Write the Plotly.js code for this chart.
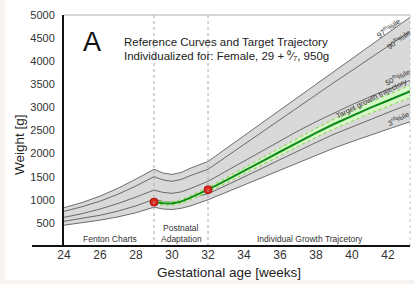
<!DOCTYPE html>
<html><head><meta charset="utf-8">
<script src="https://cdn.plot.ly/plotly-3.0.1.min.js"></script>
<style>
html,body{margin:0;padding:0;background:#f6f3f0;}
#chart{position:absolute;left:5px;top:0;width:410px;height:280px;background:#fff;}
</style></head>
<body><div id="chart"></div>
<script>
// ---- data ----
const weeks = [24,25,26,27,28,29,29.5,30,30.5,31,32,33,34,35,36,37,38,39,40,41,42,43,43.5];
const p97 = [830,940,1080,1250,1450,1660,1580,1550,1590,1680,1830,2110,2390,2670,2950,3230,3510,3790,4070,4340,4610,4890,5020];
const p90 = [750,850,970,1120,1300,1500,1430,1400,1440,1520,1660,1930,2200,2460,2730,3000,3270,3540,3800,4060,4330,4590,4720];
const p50 = [620,700,800,920,1060,1210,1160,1140,1170,1240,1400,1620,1840,2060,2280,2490,2690,2880,3060,3230,3390,3550,3630];
const p10 = [535,595,665,755,870,1010,965,950,980,1040,1130,1310,1490,1680,1870,2060,2240,2420,2580,2740,2890,3040,3110];
const p3  = [450,500,560,630,720,840,800,790,815,865,1000,1160,1320,1490,1650,1810,1970,2120,2260,2400,2530,2660,2720];

const trajWeeks = [29,29.5,30,30.5,31,32,33,34,35,36,37,38,39,40,41,42,43,43.5];
const traj     = [950,925,920,960,1040,1220,1420,1620,1830,2040,2250,2450,2640,2820,2990,3150,3310,3390];
const trajLow  = [912,888,883,922,998,1171,1363,1555,1757,1958,2160,2352,2534,2707,2870,3024,3178,3254];
const trajHigh = [988,962,957,998,1082,1269,1477,1685,1903,2122,2340,2548,2746,2933,3110,3276,3442,3526];

const dotWeeks = [29,32];
const dotWeights = [950,1220];

const xTicks = [24,26,28,30,32,34,36,38,40,42];
const yTicks = [500,1000,1500,2000,2500,3000,3500,4000,4500,5000];
const phaseLines = [29,32];

// ---- styles ----
const lineGrey = '#4d4d4d';
const bandGrey = '#d9d9d9';
const F = 'Liberation Sans, Arial, sans-serif';

const traces = [
  {x:weeks,y:p3,mode:'lines',line:{color:lineGrey,width:0.8},hoverinfo:'skip'},
  {x:weeks,y:p97,mode:'lines',fill:'tonexty',fillcolor:bandGrey,line:{color:lineGrey,width:0.8},hoverinfo:'skip'},
  {x:weeks,y:p10,mode:'lines',line:{color:lineGrey,width:0.8},hoverinfo:'skip'},
  {x:weeks,y:p50,mode:'lines',line:{color:lineGrey,width:0.8},hoverinfo:'skip'},
  {x:weeks,y:p90,mode:'lines',line:{color:lineGrey,width:0.8},hoverinfo:'skip'},
  {x:trajWeeks,y:trajLow,mode:'lines',line:{color:'#86d13c',width:1,dash:'dot'},hoverinfo:'skip'},
  {x:trajWeeks,y:trajHigh,mode:'lines',fill:'tonexty',fillcolor:'#d6f7c6',line:{color:'#86d13c',width:1,dash:'dot'},hoverinfo:'skip'},
  {x:trajWeeks,y:traj,mode:'lines',line:{color:'#0f8a1c',width:2},hoverinfo:'skip'},
  {x:dotWeeks,y:dotWeights,mode:'markers',marker:{color:'#e0261b',size:8,line:{color:'#a0150f',width:1}},hoverinfo:'skip'}
];

const shapes = phaseLines.map(w => ({type:'line',xref:'x',yref:'paper',x0:w,x1:w,y0:0,y1:1,line:{color:'#a8a8a8',width:1,dash:'dot'}}));
shapes.push({type:'line',xref:'paper',yref:'paper',x0:1,x1:1,y0:0,y1:1,line:{color:'#c8c8c8',width:1,dash:'dot'}});
shapes.push({type:'line',xref:'paper',yref:'paper',x0:0,x1:1,y0:1,y1:1,line:{color:'#b0b0b0',width:1}});
shapes.push({type:'line',xref:'paper',yref:'paper',x0:-0.0925,x1:1,y0:0,y1:0,line:{color:'#111',width:2}});

const lab = (x,y,t,ang,size) => ({xref:'x',yref:'y',x:x,y:y,xanchor:'center',yanchor:'middle',text:t,showarrow:false,textangle:ang,font:{family:F,size:size||8,color:'#333'}});

const annotations = [
  {xref:'x',yref:'y',x:25.56,y:4417,xanchor:'center',yanchor:'middle',text:'A',showarrow:false,font:{family:F,size:27,color:'#111'}},
  {xref:'x',yref:'y',x:27.2,y:4417,xanchor:'left',yanchor:'middle',text:'Reference Curves and Target Trajectory',showarrow:false,font:{family:F,size:11.5,color:'#222'}},
  {xref:'x',yref:'y',x:27.2,y:4113,xanchor:'left',yanchor:'middle',text:'Individualized for: Female, 29 + ⁰⁄₇, 950g',showarrow:false,font:{family:F,size:11.5,color:'#222'}},
  lab(42.0,4720,'97<sup>th</sup>%ile',-36,7.5),
  lab(42.6,4480,'90<sup>th</sup>%ile',-36,7.5),
  lab(42.5,3660,'50<sup>th</sup>%ile',-27,7.5),
  lab(41.1,3200,'Target growth trajectory',-27,7.5),
  lab(42.6,2760,'3<sup>rd</sup>%ile',-27,7.5),
  lab(26.56,152,'Fenton Charts',0,8.5),
  lab(30.5,390,'Postnatal',0,8.5),
  lab(30.5,152,'Adaptation',0,8.5),
  lab(37.67,152,'Individual Growth Trajcetory',0,8.5),
  {xref:'paper',yref:'paper',x:0.477,y:-0.115,xanchor:'center',yanchor:'middle',text:'Gestational age [weeks]',showarrow:false,font:{family:F,size:13.5,color:'#222'}},
  {xref:'paper',yref:'paper',x:-0.13,y:0.437,xanchor:'center',yanchor:'middle',text:'Weight [g]',textangle:-90,showarrow:false,font:{family:F,size:13.5,color:'#222'}}
];

const layout = {
  width:410,height:280,
  margin:{l:59,r:5,t:15,b:34},
  paper_bgcolor:'#ffffff',plot_bgcolor:'#ffffff',
  showlegend:false,
  xaxis:{range:[24,43.22],tickvals:xTicks,ticktext:xTicks.map(String),showgrid:false,zeroline:false,showline:false,ticks:'',tickfont:{family:F,size:12,color:'#333'},fixedrange:true},
  yaxis:{range:[0,5000],tickvals:yTicks,ticktext:yTicks.map(String),showgrid:false,zeroline:false,showline:true,linecolor:'#111',linewidth:2,ticks:'',ticklabelstandoff:5,tickfont:{family:F,size:11,color:'#333'},fixedrange:true},
  shapes:shapes,
  annotations:annotations
};

Plotly.newPlot('chart',traces,layout,{staticPlot:true,displayModeBar:false});
</script></body></html>
